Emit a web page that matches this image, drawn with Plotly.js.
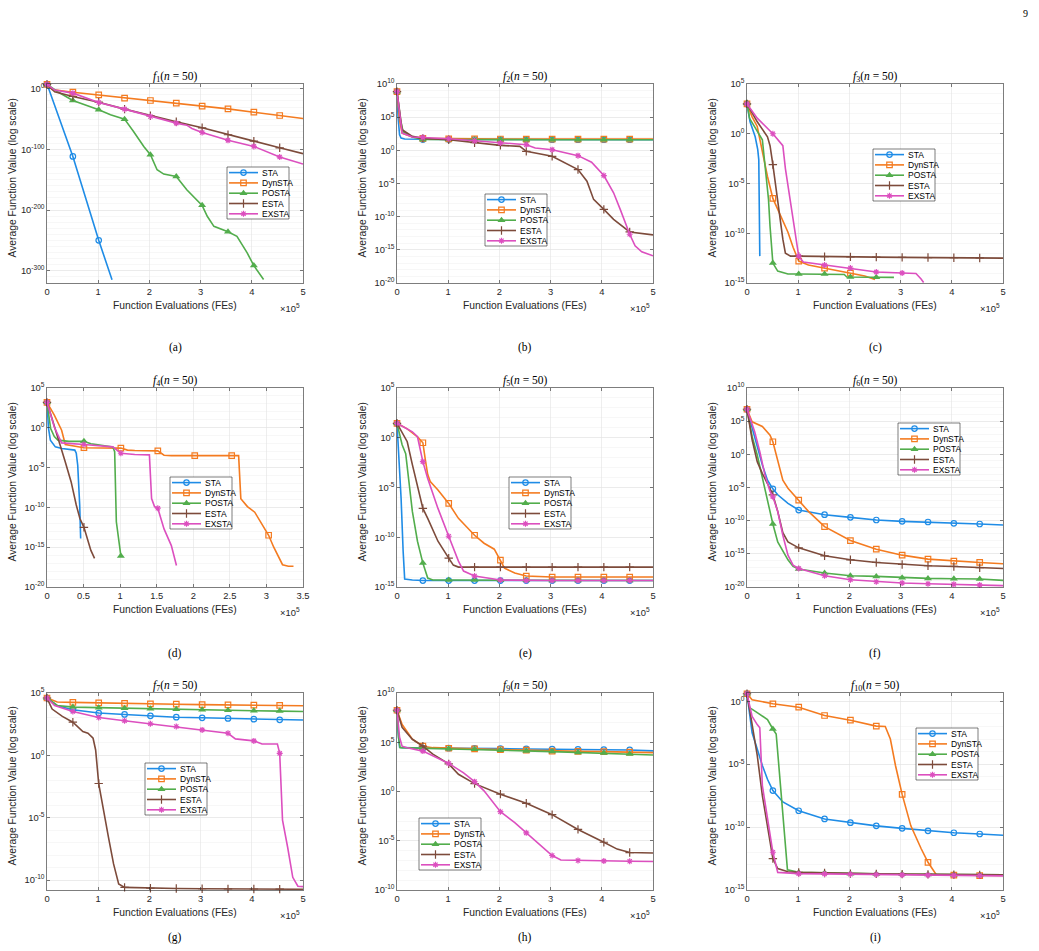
<!DOCTYPE html>
<html>
<head>
<meta charset="utf-8">
<script src="https://cdn.plot.ly/plotly-3.0.1.min.js"></script>
<style>
  html, body { margin: 0; padding: 0; background: #ffffff; }
  #chart { width: 1039px; height: 951px; }
</style>
</head>
<body>
<div id="chart"></div>
<script>
// Convergence curves: x in units of 1e5 function evaluations, y as log10(average function value).
const SERIES = ['STA', 'DynSTA', 'POSTA', 'ESTA', 'EXSTA'];
const MARKER_X = [0, 0.505, 1.01, 1.515, 2.02, 2.525, 3.03, 3.535, 4.04, 4.545];
const PANEL_TITLES = ['1', '2', '3', '4', '5', '6', '7', '9', '10'];
const CAPTIONS = ['(a)', '(b)', '(c)', '(d)', '(e)', '(f)', '(g)', '(h)', '(i)'];

// f1
const f1_STA = [[0,7.5],[0.03,1],[0.505,-111.5],[1.01,-250],[1.27,-315]];
const f1_DynSTA = [[0,7.5],[0.1,-1],[0.505,-5.5],[1.01,-9.9],[1.515,-15.4],[2.02,-19.2],[2.525,-23.6],[3.03,-28.6],[3.535,-33],[4.04,-38.5],[4.545,-44],[5,-48.9]];
const f1_POSTA = [[0,7.5],[0.2,-4.4],[0.505,-19.2],[0.72,-25.3],[1.01,-34.6],[1.24,-42.9],[1.515,-50],[1.69,-70.3],[1.89,-95],[2.02,-108.8],[2.15,-133.5],[2.28,-140.7],[2.525,-144.5],[2.73,-166.5],[3.03,-192.3],[3.13,-210.4],[3.26,-227],[3.535,-236],[3.71,-243.4],[3.91,-270.9],[4.04,-291.8],[4.23,-314.8]];
const f1_ESTA = [[0,7.5],[0.15,-5],[0.505,-12.6],[1.01,-22],[1.515,-33.5],[2.02,-44.5],[2.525,-54.4],[3.03,-64.3],[3.535,-75.8],[4.04,-86.3],[4.545,-97.3],[5,-107]];
const f1_EXSTA = [[0,7.5],[0.15,-2],[0.505,-7.1],[1.01,-22.5],[1.515,-33.5],[2.02,-45.6],[2.525,-56.6],[2.73,-60],[2.83,-65.5],[3.03,-72],[3.535,-85],[4.04,-95],[4.545,-112.6],[5,-124]];

// f2
const f2_STA = [[0,8.85],[0.02,5.1],[0.05,2.35],[0.08,1.85],[0.15,1.7],[0.505,1.65],[1.01,1.64],[1.515,1.63],[2.02,1.62],[2.525,1.62],[3.03,1.61],[3.535,1.61],[4.04,1.6],[4.545,1.6],[5,1.6]];
const f2_DynSTA = [[0,8.85],[0.05,4.5],[0.1,2.6],[0.3,2.0],[0.505,1.8],[1.01,1.74],[1.515,1.72],[2.02,1.71],[2.525,1.7],[3.03,1.7],[3.535,1.7],[4.04,1.7],[4.545,1.7],[5,1.7]];
const f2_POSTA = [[0,8.85],[0.07,4.5],[0.12,2.8],[0.3,2.0],[0.505,1.65],[1.01,1.62],[1.515,1.61],[2.02,1.6],[2.525,1.6],[3.03,1.6],[3.535,1.6],[4.04,1.6],[4.545,1.6],[5,1.6]];
const f2_ESTA = [[0,8.85],[0.1,3.1],[0.3,2.1],[0.505,1.8],[1.01,1.6],[1.515,1.15],[2.02,0.75],[2.4,0.6],[2.525,-0.15],[3.03,-0.9],[3.535,-2.9],[3.71,-4.65],[3.84,-7.4],[4.04,-8.9],[4.23,-10.4],[4.545,-12.3],[5,-12.75]];
const f2_EXSTA = [[0,8.85],[0.1,2.6],[0.3,2.0],[0.505,1.95],[1.01,1.75],[1.515,1.45],[2.02,1.1],[2.525,0.85],[2.7,0.35],[3.03,0.1],[3.535,-0.8],[3.8,-1.8],[4.04,-3.8],[4.23,-6.4],[4.36,-8.9],[4.46,-10.9],[4.545,-12.65],[4.65,-14.4],[4.78,-15.3],[5,-15.9]];

// f3
const f3_STA = [[0,3],[0.06,1.2],[0.16,-0.3],[0.21,-1.6],[0.23,-2.6],[0.25,-12.3]];
const f3_DynSTA = [[0,3],[0.1,1.7],[0.2,0.73],[0.3,-1.9],[0.4,-4.3],[0.505,-6.5],[0.6,-7.6],[0.8,-9.9],[0.9,-11.4],[1.01,-12.8],[1.2,-13.2],[1.515,-13.5],[1.8,-13.8],[2.02,-14.0],[2.3,-14.3],[2.5,-14.65]];
const f3_POSTA = [[0,3.1],[0.05,1.55],[0.3,-0.6],[0.35,-2.9],[0.42,-6.6],[0.45,-9.3],[0.505,-13],[0.6,-13.8],[0.8,-14.1],[1.01,-14.1],[1.515,-14.1],[1.9,-14.15],[1.95,-14.4],[2.02,-14.4],[2.525,-14.42],[2.87,-14.43]];
const f3_ESTA = [[0,3],[0.2,1.2],[0.4,-0.3],[0.45,-1.2],[0.505,-3.1],[0.6,-6.9],[0.7,-10.6],[0.75,-12],[0.85,-12.3],[1.01,-12.3],[1.515,-12.35],[2.02,-12.37],[2.525,-12.4],[3.03,-12.42],[3.535,-12.44],[4.04,-12.46],[4.545,-12.48],[5,-12.5]];
const f3_EXSTA = [[0,3],[0.2,1.57],[0.505,0],[0.7,-1.2],[0.75,-3.5],[0.85,-7],[0.95,-10.5],[1.01,-12.3],[1.1,-12.9],[1.515,-13.2],[2.02,-13.5],[2.525,-13.9],[3.03,-14.0],[3.3,-14.05],[3.4,-14.6],[3.45,-14.95]];

// f4
const f4_STA = [[0,3.2],[0.02,0],[0.046,-1.55],[0.114,-2.4],[0.205,-2.6],[0.38,-2.8],[0.4,-3.2],[0.42,-4.7],[0.447,-9.7],[0.46,-13.9]];
const f4_DynSTA = [[0,3.2],[0.1,1.6],[0.2,-0.3],[0.25,-2.1],[0.505,-2.5],[1.01,-2.55],[1.1,-2.8],[1.2,-2.85],[1.515,-2.9],[1.6,-3.45],[1.7,-3.5],[2.02,-3.5],[2.525,-3.5],[2.62,-3.5],[2.65,-8.9],[2.74,-9.9],[2.84,-10.6],[2.95,-12.2],[3.03,-13.5],[3.1,-15],[3.22,-17.2],[3.3,-17.4],[3.37,-17.4]];
const f4_POSTA = [[0,3.2],[0.05,-0.1],[0.1,-1.1],[0.15,-1.55],[0.3,-1.7],[0.505,-1.7],[0.6,-2],[0.8,-2.3],[0.9,-2.4],[0.925,-3.0],[0.948,-11.8],[1.01,-16.1]];
const f4_ESTA = [[0,3.2],[0.1,0.33],[0.15,-1.1],[0.2,-2.8],[0.25,-4.3],[0.3,-5.7],[0.33,-6.8],[0.4,-9.7],[0.45,-11.4],[0.505,-12.5],[0.55,-13.9],[0.6,-15.4],[0.65,-16.4]];
const f4_EXSTA = [[0,3.2],[0.1,0.1],[0.15,-0.9],[0.2,-1.9],[0.505,-2.1],[0.9,-2.4],[1.01,-3.2],[1.2,-3.35],[1.4,-3.4],[1.43,-8.9],[1.47,-9.9],[1.515,-10.1],[1.6,-12.7],[1.7,-14.8],[1.77,-17.3]];

// f5
const f5_STA = [[0,1.45],[0.03,-1.1],[0.08,-6.1],[0.12,-11.4],[0.15,-14.2],[0.3,-14.3],[0.505,-14.35],[1.01,-14.35],[1.515,-14.35],[2.02,-14.35],[2.525,-14.35],[3.03,-14.35],[3.535,-14.35],[4.04,-14.35],[4.545,-14.35],[5,-14.35]];
const f5_DynSTA = [[0,1.45],[0.2,0.9],[0.4,0.1],[0.505,-0.5],[0.55,-2.1],[0.6,-3.7],[0.65,-4.4],[0.8,-5.25],[1.01,-6.6],[1.2,-8.1],[1.515,-9.8],[1.7,-10.6],[1.9,-11.2],[2.02,-12.3],[2.1,-13.1],[2.3,-13.6],[2.525,-13.9],[3.03,-14.0],[3.535,-14.0],[4.04,-14.0],[4.545,-14.0],[5,-14.0]];
const f5_POSTA = [[0,1.45],[0.1,-0.7],[0.17,-1.6],[0.25,-5.4],[0.3,-7.4],[0.4,-10.4],[0.505,-12.6],[0.6,-14.1],[0.7,-14.3],[1.01,-14.3],[1.515,-14.3],[2.02,-14.32],[2.525,-14.33],[3.03,-14.34],[3.535,-14.35],[4.04,-14.35],[4.545,-14.35],[5,-14.35]];
const f5_ESTA = [[0,1.45],[0.2,-0.4],[0.3,-2.7],[0.4,-4.9],[0.505,-7.1],[0.6,-8.1],[0.8,-10.4],[1.01,-12.1],[1.1,-12.8],[1.2,-13.0],[1.515,-13.0],[2.02,-13.0],[2.525,-13.0],[3.03,-13.0],[3.535,-13.0],[4.04,-13.0],[4.545,-13.0],[5,-13.0]];
const f5_EXSTA = [[0,1.45],[0.3,0.6],[0.4,0.1],[0.505,-2.4],[0.6,-4.1],[0.8,-7.1],[1.01,-9.9],[1.2,-12.4],[1.3,-13.4],[1.515,-13.9],[2.02,-14.3],[2.525,-14.35],[3.03,-14.35],[3.535,-14.35],[4.04,-14.35],[4.545,-14.35],[5,-14.35]];

// f6
const f6_STA = [[0,6.8],[0.1,3.9],[0.2,1.2],[0.3,-1.6],[0.4,-3.9],[0.505,-5.2],[0.6,-6.1],[0.8,-7.4],[1.01,-8.4],[1.515,-9.1],[2.02,-9.5],[2.525,-9.9],[3.03,-10.1],[3.535,-10.2],[4.04,-10.4],[4.545,-10.5],[5,-10.65]];
const f6_DynSTA = [[0,6.8],[0.1,4.9],[0.3,4.2],[0.45,2.9],[0.505,1.9],[0.6,-1.1],[0.7,-3.9],[0.8,-5.1],[1.01,-6.9],[1.2,-8.6],[1.515,-10.9],[2.02,-13.0],[2.525,-14.3],[3.03,-15.2],[3.535,-15.8],[4.04,-16.1],[4.545,-16.3],[5,-16.5]];
const f6_POSTA = [[0,6.8],[0.1,2.7],[0.2,-0.1],[0.3,-3.6],[0.4,-7.1],[0.505,-10.5],[0.6,-13.2],[0.8,-15.9],[0.9,-16.9],[1.01,-17.3],[1.515,-17.9],[2.02,-18.3],[2.525,-18.4],[3.03,-18.6],[3.535,-18.7],[4.04,-18.75],[4.545,-18.8],[5,-19.0]];
const f6_ESTA = [[0,6.8],[0.1,2.2],[0.2,-1.1],[0.3,-2.9],[0.4,-4.4],[0.505,-6.1],[0.6,-8.6],[0.7,-11.8],[0.8,-13.2],[1.01,-14.1],[1.515,-15.3],[2.02,-15.9],[2.525,-16.3],[3.03,-16.6],[3.535,-16.8],[4.04,-16.9],[4.545,-17.1],[5,-17.2]];
const f6_EXSTA = [[0,6.8],[0.15,3.4],[0.25,0.4],[0.35,-3.1],[0.45,-5.6],[0.505,-6.4],[0.6,-8.6],[0.7,-12.2],[0.8,-15.2],[0.9,-16.7],[1.01,-17.2],[1.515,-18.3],[2.02,-18.9],[2.525,-19.2],[3.03,-19.4],[3.535,-19.5],[4.04,-19.6],[4.545,-19.7],[5,-19.8]];

// f7
const f7_STA = [[0,4.6],[0.2,3.98],[0.505,3.66],[1.01,3.39],[1.515,3.28],[2.02,3.17],[2.525,3.06],[3.03,3.01],[3.535,2.96],[4.04,2.9],[4.545,2.85],[5,2.83]];
const f7_DynSTA = [[0,4.6],[0.2,4.28],[0.505,4.25],[1.01,4.2],[1.515,4.17],[2.02,4.12],[2.525,4.1],[3.03,4.07],[3.535,4.05],[4.04,4.02],[4.545,4.0],[5,3.98]];
const f7_POSTA = [[0,4.6],[0.2,4.0],[0.505,3.87],[1.01,3.82],[1.515,3.78],[2.02,3.74],[2.525,3.7],[3.03,3.66],[3.535,3.62],[4.04,3.58],[4.545,3.55],[5,3.52]];
const f7_ESTA = [[0,4.6],[0.1,3.71],[0.3,3.12],[0.505,2.66],[0.7,1.91],[0.8,1.77],[0.9,1.37],[0.95,0.43],[1.01,-2.26],[1.1,-4.41],[1.2,-6.56],[1.3,-8.71],[1.4,-10.32],[1.515,-10.59],[2.02,-10.66],[2.525,-10.68],[3.03,-10.7],[3.535,-10.71],[4.04,-10.72],[4.545,-10.73],[5,-10.74]];
const f7_EXSTA = [[0,4.6],[0.15,4.0],[0.505,3.52],[1.01,3.04],[1.515,2.77],[2.02,2.53],[2.525,2.31],[3.03,2.04],[3.535,1.77],[3.68,1.32],[4.04,1.16],[4.2,0.91],[4.5,0.91],[4.545,0.16],[4.6,-5.2],[4.7,-7.37],[4.8,-9.78],[4.9,-10.5],[5,-10.53]];

// f9
const f9_STA = [[0,8.25],[0.02,6.1],[0.05,4.5],[0.1,4.45],[0.505,4.4],[1.01,4.4],[1.515,4.38],[2.02,4.35],[2.525,4.32],[3.03,4.3],[3.535,4.27],[4.04,4.25],[4.545,4.22],[5,4.12]];
const f9_DynSTA = [[0,8.25],[0.1,6.8],[0.3,5.3],[0.505,4.6],[0.7,4.45],[1.01,4.39],[1.515,4.33],[2.02,4.25],[2.525,4.2],[3.03,4.1],[3.535,4.07],[4.04,4.05],[4.545,4.0],[5,3.95]];
const f9_POSTA = [[0,8.25],[0.03,5.5],[0.06,4.45],[0.505,4.4],[1.01,4.35],[1.515,4.3],[2.02,4.2],[2.525,4.12],[3.03,4.05],[3.535,3.97],[4.04,3.9],[4.545,3.8],[5,3.7]];
const f9_ESTA = [[0,8.25],[0.1,6.5],[0.3,5.3],[0.505,4.6],[0.7,3.8],[1.01,2.8],[1.2,1.75],[1.515,0.8],[2.02,-0.27],[2.525,-1.2],[3.03,-2.35],[3.535,-3.85],[4.04,-5.15],[4.3,-5.85],[4.545,-6.2],[5,-6.25]];
const f9_EXSTA = [[0,8.25],[0.05,5.5],[0.1,4.6],[0.2,4.45],[0.505,4.1],[0.7,3.6],[1.01,2.85],[1.3,1.9],[1.515,1.0],[1.7,0.07],[1.9,-1.3],[2.02,-2.05],[2.3,-3.15],[2.525,-4.2],[2.8,-5.5],[3.03,-6.5],[3.2,-6.95],[3.535,-7.0],[4.04,-7.05],[4.545,-7.08],[5,-7.1]];

// f10
const f10_STA = [[0,0.6],[0.05,-1.2],[0.1,-2.5],[0.2,-3.8],[0.3,-5.1],[0.4,-6.2],[0.505,-7.1],[0.7,-8.0],[1.01,-8.7],[1.515,-9.35],[2.02,-9.65],[2.525,-9.9],[3.03,-10.1],[3.535,-10.3],[4.04,-10.45],[4.545,-10.55],[5,-10.65]];
const f10_DynSTA = [[0,0.6],[0.1,0.13],[0.505,-0.2],[1.01,-0.47],[1.515,-1.13],[2.02,-1.5],[2.525,-1.97],[2.7,-2.0],[2.8,-3.0],[2.9,-5.1],[3.03,-7.4],[3.2,-9.9],[3.4,-11.7],[3.535,-12.8],[3.7,-13.8],[4.04,-13.82],[4.545,-13.85],[5,-13.85]];
const f10_POSTA = [[0,0.6],[0.05,-0.5],[0.2,-0.9],[0.4,-1.45],[0.505,-2.2],[0.57,-2.6],[0.65,-6.5],[0.72,-10],[0.79,-13.4],[1.01,-13.6],[1.515,-13.65],[2.02,-13.7],[2.525,-13.72],[3.03,-13.75],[3.535,-13.76],[4.04,-13.78],[4.545,-13.8],[5,-13.8]];
const f10_ESTA = [[0,0.6],[0.1,-2.0],[0.2,-4.3],[0.3,-7.5],[0.4,-10.1],[0.505,-12.5],[0.6,-13.3],[0.8,-13.55],[1.01,-13.6],[1.515,-13.65],[2.02,-13.7],[2.525,-13.72],[3.03,-13.74],[3.535,-13.76],[4.04,-13.78],[4.545,-13.8],[5,-13.8]];
const f10_EXSTA = [[0,0.6],[0.1,-1.2],[0.2,-1.85],[0.25,-2.1],[0.3,-6.7],[0.4,-9.3],[0.505,-12.0],[0.6,-13.6],[1.01,-13.7],[1.515,-13.72],[2.02,-13.75],[2.525,-13.77],[3.03,-13.8],[3.535,-13.82],[4.04,-13.84],[4.545,-13.86],[5,-13.88]];

// Tick exponents of each y axis
const f1_yTicks = [-300, -200, -100, 0];
const f2_yTicks = [-20, -15, -10, -5, 0, 5, 10];
const f3_yTicks = [-15, -10, -5, 0, 5];
const f4_yTicks = [-20, -15, -10, -5, 0, 5];
const f5_yTicks = [-15, -10, -5, 0, 5];
const f6_yTicks = [-20, -15, -10, -5, 0, 5, 10];
const f7_yTicks = [-10, -5, 0, 5];
const f9_yTicks = [-10, -5, 0, 5, 10];
const f10_yTicks = [-15, -10, -5, 0];
const X_TICKS_5 = [0, 1, 2, 3, 4, 5];
const X_TICKS_35 = [0, 0.5, 1, 1.5, 2, 2.5, 3, 3.5];

// Panel configuration (axis ranges in log10 units, legend anchor in page pixels)
const PANELS = [
  { data: [f1_STA, f1_DynSTA, f1_POSTA, f1_ESTA, f1_EXSTA], yRange: [-320.5, 8], yTicks: f1_yTicks, minor: 10, xTicks: X_TICKS_5, legend: [227, 167] },
  { data: [f2_STA, f2_DynSTA, f2_POSTA, f2_ESTA, f2_EXSTA], yRange: [-20, 10], yTicks: f2_yTicks, minor: 1, xTicks: X_TICKS_5, legend: [485, 194] },
  { data: [f3_STA, f3_DynSTA, f3_POSTA, f3_ESTA, f3_EXSTA], yRange: [-15, 5], yTicks: f3_yTicks, minor: 1, xTicks: X_TICKS_5, legend: [873, 149] },
  { data: [f4_STA, f4_DynSTA, f4_POSTA, f4_ESTA, f4_EXSTA], yRange: [-20, 5], yTicks: f4_yTicks, minor: 1, xTicks: X_TICKS_35, legend: [170, 477] },
  { data: [f5_STA, f5_DynSTA, f5_POSTA, f5_ESTA, f5_EXSTA], yRange: [-15, 5], yTicks: f5_yTicks, minor: 1, xTicks: X_TICKS_5, legend: [509, 477] },
  { data: [f6_STA, f6_DynSTA, f6_POSTA, f6_ESTA, f6_EXSTA], yRange: [-20, 10], yTicks: f6_yTicks, minor: 1, xTicks: X_TICKS_5, legend: [898, 423] },
  { data: [f7_STA, f7_DynSTA, f7_POSTA, f7_ESTA, f7_EXSTA], yRange: [-10.8, 5], yTicks: f7_yTicks, minor: 1, xTicks: X_TICKS_5, legend: [145, 763] },
  { data: [f9_STA, f9_DynSTA, f9_POSTA, f9_ESTA, f9_EXSTA], yRange: [-10, 10], yTicks: f9_yTicks, minor: 1, xTicks: X_TICKS_5, legend: [419, 818] },
  { data: [f10_STA, f10_DynSTA, f10_POSTA, f10_ESTA, f10_EXSTA], yRange: [-15, 0.66], yTicks: f10_yTicks, minor: 1, xTicks: X_TICKS_5, legend: [916, 728] }
];

// Styling
const COLORS = ['#1f8ce6', '#f47b20', '#52ad4c', '#7d4b3b', '#dc4fbf'];
const SYMBOLS = ['circle-open', 'square-open', 'triangle-up', 'cross-thin-open', 'asterisk-open'];
const MSIZE = [5.5, 5.5, 7, 6, 5];
const SANS = 'Liberation Sans, Arial, Helvetica, sans-serif';
const SERIF = 'Liberation Serif, Times New Roman, serif';
const INK = '#262626';

const W = 1039, H = 951;
const COL_LEFT = [47, 397, 747];
const ROW_TOP = [84, 388, 693];
const ROW_H = [199, 199, 197];
const PW = 256;
const CAPTION_Y = [348, 653, 937];
const LEG_W = 62, LEG_H = 52, LEG_ROW = 10.3;

const px = v => v / W;
const py = v => 1 - v / H;
const isMarker = x => MARKER_X.some(m => Math.abs(m - x) < 1e-9);

const traces = [];
const annotations = [];
const layout = {
  width: W, height: H,
  margin: { l: 0, r: 0, t: 0, b: 0 },
  paper_bgcolor: '#ffffff', plot_bgcolor: '#ffffff',
  showlegend: false,
  font: { family: SANS, color: INK },
  annotations: annotations
};

function markerStyle(s) {
  return { symbol: SYMBOLS[s], size: MSIZE[s], color: COLORS[s],
           line: { color: COLORS[s], width: s === 2 ? 0 : 1.2 } };
}

PANELS.forEach((p, i) => {
  const id = i === 0 ? '' : String(i + 1);
  const col = i % 3, row = Math.floor(i / 3);
  const L = COL_LEFT[col], T = ROW_TOP[row], h = ROW_H[row], B = T + h;
  const xMax = p.xTicks[p.xTicks.length - 1];
  const [ylo, yhi] = p.yRange;

  layout['xaxis' + id] = {
    domain: [px(L), px(L + PW)], anchor: 'y' + id,
    range: [0, xMax], tickmode: 'array', tickvals: p.xTicks, ticktext: p.xTicks.map(String),
    ticks: 'inside', ticklen: 3, tickwidth: 0.6, tickcolor: INK,
    showline: true, linecolor: INK, linewidth: 0.6, mirror: 'ticks',
    showgrid: true, gridcolor: '#e2e2e2', gridwidth: 0.6, zeroline: false,
    tickfont: { family: SANS, size: 9.4, color: INK }, fixedrange: true
  };
  layout['yaxis' + id] = {
    domain: [py(B), py(T)], anchor: 'x' + id, type: 'log',
    range: [ylo, yhi], tickmode: 'array',
    tickvals: p.yTicks.map(e => Math.pow(10, e)),
    ticktext: p.yTicks.map(e => '10<sup>' + e + '</sup>'),
    ticks: 'inside', ticklen: 3, tickwidth: 0.6, tickcolor: INK,
    showline: true, linecolor: INK, linewidth: 0.6, mirror: 'ticks',
    showgrid: true, gridcolor: '#e2e2e2', gridwidth: 0.6, zeroline: false,
    minor: { dtick: p.minor, tick0: 0, showgrid: true, gridcolor: '#f1f1f1', gridwidth: 0.6, ticks: '' },
    tickfont: { family: SANS, size: 9.4, color: INK }, fixedrange: true
  };

  // data curves and their markers
  p.data.forEach((pts, s) => {
    traces.push({
      type: 'scatter', mode: 'lines', xaxis: 'x' + id, yaxis: 'y' + id,
      x: pts.map(d => d[0]), y: pts.map(d => Math.pow(10, d[1])),
      line: { color: COLORS[s], width: 1.6 }, cliponaxis: false, hoverinfo: 'skip'
    });
    const mk = pts.filter(d => isMarker(d[0]));
    traces.push({
      type: 'scatter', mode: 'markers', xaxis: 'x' + id, yaxis: 'y' + id,
      x: mk.map(d => d[0]), y: mk.map(d => Math.pow(10, d[1])),
      marker: markerStyle(s), cliponaxis: false, hoverinfo: 'skip'
    });
  });

  // legend box drawn inside the panel, positioned in page pixels
  const xAt = v => (v - L) / PW * xMax;
  const yAt = v => Math.pow(10, yhi - (v - T) / h * (yhi - ylo));
  const [lx, ly] = p.legend;
  traces.push({
    type: 'scatter', mode: 'lines', xaxis: 'x' + id, yaxis: 'y' + id,
    x: [xAt(lx), xAt(lx + LEG_W), xAt(lx + LEG_W), xAt(lx), xAt(lx)],
    y: [yAt(ly), yAt(ly), yAt(ly + LEG_H), yAt(ly + LEG_H), yAt(ly)],
    fill: 'toself', fillcolor: '#ffffff', line: { color: INK, width: 0.6 }, hoverinfo: 'skip'
  });
  SERIES.forEach((name, s) => {
    const ry = ly + 5.6 + s * LEG_ROW;
    traces.push({
      type: 'scatter', mode: 'lines', xaxis: 'x' + id, yaxis: 'y' + id,
      x: [xAt(lx + 2), xAt(lx + 31)], y: [yAt(ry), yAt(ry)],
      line: { color: COLORS[s], width: 1.6 }, hoverinfo: 'skip'
    });
    traces.push({
      type: 'scatter', mode: 'markers', xaxis: 'x' + id, yaxis: 'y' + id,
      x: [xAt(lx + 16.5)], y: [yAt(ry)],
      marker: markerStyle(s), hoverinfo: 'skip'
    });
    annotations.push({
      xref: 'paper', yref: 'paper', x: px(lx + 32.5), y: py(ry),
      xanchor: 'left', yanchor: 'middle', showarrow: false,
      text: name, font: { family: SANS, size: 8.5, color: '#000000' }
    });
  });

  // panel title, axis titles, exponent note and caption
  annotations.push({
    xref: 'paper', yref: 'paper', x: px(L + PW / 2), y: py(T - 7),
    xanchor: 'center', yanchor: 'middle', showarrow: false,
    text: '<i>f</i><sub>' + PANEL_TITLES[i] + '</sub>(<i>n</i> = 50)',
    font: { family: SERIF, size: 11.5, color: '#000000' }
  });
  annotations.push({
    xref: 'paper', yref: 'paper', x: px(L + PW / 2), y: py(B + 22.5),
    xanchor: 'center', yanchor: 'middle', showarrow: false,
    text: 'Function Evaluations (FEs)', font: { family: SANS, size: 10.3, color: INK }
  });
  annotations.push({
    xref: 'paper', yref: 'paper', x: px(L + PW - 1), y: py(B + 25),
    xanchor: 'right', yanchor: 'middle', showarrow: false,
    text: '×10<sup>5</sup>', font: { family: SANS, size: 9.4, color: INK }
  });
  annotations.push({
    xref: 'paper', yref: 'paper', x: px(L - 35), y: py(T + h / 2 - 5),
    xanchor: 'center', yanchor: 'middle', showarrow: false, textangle: -90,
    text: 'Average Function Value (log scale)', font: { family: SANS, size: 10.3, color: INK }
  });
  annotations.push({
    xref: 'paper', yref: 'paper', x: px(L + PW / 2), y: py(CAPTION_Y[row]),
    xanchor: 'center', yanchor: 'middle', showarrow: false,
    text: CAPTIONS[i], font: { family: SERIF, size: 11.5, color: '#000000' }
  });
});

// page number
annotations.push({
  xref: 'paper', yref: 'paper', x: px(1025), y: py(13),
  xanchor: 'center', yanchor: 'middle', showarrow: false,
  text: '9', font: { family: SERIF, size: 10, color: '#000000' }
});

Plotly.newPlot('chart', traces, layout, { staticPlot: true, displayModeBar: false });
</script>
</body>
</html>
